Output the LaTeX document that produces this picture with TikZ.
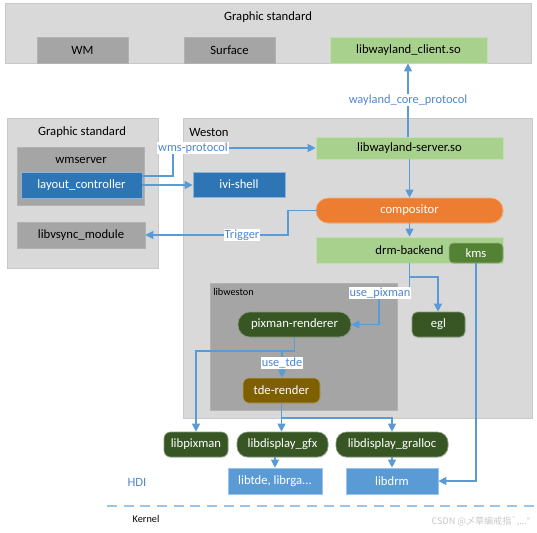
\documentclass[tikz,border=0pt]{standalone}
\usepackage{fontspec}
\setmainfont{Carlito}
\newfontfamily\cjkfont{Noto Sans CJK SC}
\usetikzlibrary{arrows.meta,calc,shadows}
\definecolor{outerg}{HTML}{D9D9D9}
\definecolor{innerg}{HTML}{A5A5A5}
\definecolor{lgreen}{HTML}{A9D18E}
\definecolor{dgreen}{HTML}{375623}
\definecolor{mgreen}{HTML}{548235}
\definecolor{bblue}{HTML}{2E75B6}
\definecolor{lblue}{HTML}{5B9BD5}
\definecolor{orng}{HTML}{ED7D31}
\definecolor{brwn}{HTML}{7F6000}
\definecolor{arrc}{HTML}{5B9BD5}
\definecolor{labc}{HTML}{4F86CF}
\definecolor{dashc}{HTML}{9DC3E6}
\tikzset{
  x=0.75pt, y=-0.75pt,
  sz/.style 2 args={minimum width=#1*0.75pt, minimum height=#2*0.75pt},
  base/.style={rectangle, inner sep=0pt, font=\fontsize{9.5}{11}\selectfont,
    drop shadow={opacity=0.12, shadow xshift=0.6pt, shadow yshift=-0.9pt}},
  outer/.style={base, fill=outerg, draw=outerg!92!black, line width=0.3pt},
  gray/.style={base, fill=innerg, draw=innerg!85!white, line width=0.4pt},
  lgbox/.style={base, fill=lgreen, draw=lgreen!70!white, line width=0.5pt},
  bluebox/.style={base, fill=bblue, text=white, draw=bblue!55!white, line width=0.5pt},
  lbluebox/.style={base, fill=lblue, text=white, draw=lblue!60!white, line width=0.5pt},
  dgbox/.style={base, fill=dgreen, text=white, draw=dgreen!60!white, line width=0.5pt},
  plain/.style={inner sep=0pt, font=\fontsize{9.5}{11}\selectfont},
  arr/.style={draw=arrc, line width=0.8pt, -{Triangle[length=6pt,width=6pt]}},
  lab/.style={fill=white, text=labc, inner sep=0.6pt, font=\fontsize{9.3}{10.5}\selectfont},
}
\begin{document}
\begin{tikzpicture}
\useasboundingbox (0,0) rectangle (537,533);

% top graphic standard
\node[outer, sz={526}{60}] (top) at (268,33) {};
\node[plain] (toptitle) at (268,17) {Graphic standard};
\node[gray, sz={91}{26}] (wm) at (82.5,50) {WM};
\node[gray, sz={91}{26}] (surface) at (229.5,50) {Surface};
\node[lgbox, sz={157}{26}] (client) at (408.5,50) {libwayland\_client.so};

% left graphic standard
\node[outer, sz={151}{150}] (gsleft) at (82.5,193) {};
\node[plain] (gsltitle) at (82,132) {Graphic standard};
\node[gray, sz={127}{58}] (wmserver) at (80.5,176) {};
\node[plain] (wmstitle) at (81,160) {wmserver};
\node[bluebox, sz={121}{26}] (layout) at (81.5,185) {layout\_controller};
\node[gray, sz={128}{26}] (vsync) at (81,235) {libvsync\_module};

% weston
\node[outer, sz={349}{300}] (weston) at (357.5,268) {};
\node[plain, anchor=west] (westitle) at (189,132) {Weston};
\node[lgbox, sz={187}{22}] (server) at (409.5,148) {libwayland-server.so};
\node[bluebox, sz={92}{25}] (ivi) at (239,184.5) {ivi-shell};
\node[base, fill=orng, text=white, draw=orng!60!white, line width=0.5pt, rounded corners=9pt, sz={187}{25}] (comp) at (409.5,210.5) {compositor};
\node[lgbox, sz={187}{26}] (drm) at (409.5,250) {drm-backend};
\node[base, fill=mgreen, text=white, draw=mgreen!60!white, line width=0.5pt, rounded corners=3pt, sz={54}{20}] (kms) at (476,253) {kms};

% libweston
\node[gray, sz={187}{127}] (libweston) at (303.5,346.5) {};
\node[inner sep=0pt, anchor=west, font=\fontsize{7.7}{9}\selectfont] (lwtitle) at (213,292) {libweston};
\node[dgbox, rounded corners=9pt, sz={113}{25}] (pixman) at (294.5,324.5) {pixman-renderer};
\node[dgbox, rounded corners=4pt, sz={53}{25}] (egl) at (438.5,324.5) {egl};
\node[base, fill=brwn, text=white, draw=brwn!60!white, line width=0.5pt, rounded corners=4.5pt, sz={77}{25}] (tde) at (281.5,390.5) {tde-render};

% bottom libs
\node[dgbox, rounded corners=5pt, sz={64}{25}] (libpixman) at (196,444.5) {libpixman};
\node[dgbox, rounded corners=8pt, sz={91}{25}] (gfx) at (282.5,444.5) {libdisplay\_gfx};
\node[dgbox, rounded corners=8pt, sz={112}{25}] (gralloc) at (392,444.5) {libdisplay\_gralloc};
\node[lbluebox, sz={94}{26}] (libtde) at (275,481) {libtde, librga...};
\node[lbluebox, sz={92}{26}] (libdrm) at (392,481) {libdrm};

% texts
\node[plain, text=labc] (hdi) at (137,482) {HDI};
\node[inner sep=0pt, font=\fontsize{7.7}{9}\selectfont] (kernel) at (146,519) {Kernel};
\coordinate (dl) at (107,506);
\coordinate (dr) at (537,506);
\draw[dashc, line width=1.1pt, dash pattern=on 7.5pt off 5pt] (dl) -- (dr);
\node[inner sep=0pt, text=black!22, font=\cjkfont\fontsize{6.8}{8}\selectfont] (wmark) at (481,521) {CSDN @乄草编戒指`,...°};

% connectors
\draw[arr] (server.north -| 408,0) -- (408,0 |- client.south)
  node[lab, pos=0.5] {wayland\_core\_protocol};
\draw[arr] ($(layout.east)+(0,-9)$) -- (173,176) -- (173,148) -- (server.west |- 0,148);
\node[lab] (wmslab) at (193,148) {wms-protocol};
\draw[arr] (layout.east) -- (layout.east -| ivi.west);
\draw[arr] (server.south) -- (comp.north);
\draw[arr] (comp.south) -- (drm.north);
\draw[arr] (comp.west) -- (288,210.5) |- (vsync.east);
\node[lab] (triglab) at (242,235) {Trigger};
\draw[arr] (drm.south) |- (438,277) -- (438,0 |- egl.north);
\draw[arr] (drm.south) |- (379,293) |- (pixman.east);
\node[lab] (usepix) at (380,293) {use\_pixman};
\draw[arr] (pixman.south) |- (196,351) -- (libpixman.north);
\draw[arr] (282,351) -- (282,0 |- tde.north);
\node[lab] (usetde) at (282,363) {use\_tde};
\draw[arr] (tde.south) -- (tde.south |- gfx.north);
\draw[arr] (tde.south |- 0,418) -| (gralloc.north);
\draw[arr] (libtde.north |- gfx.south) -- (libtde.north);
\draw[arr] (gralloc.south) -- (libdrm.north);
\draw[arr] (kms.south) |- (libdrm.east);
\end{tikzpicture}
\end{document}
